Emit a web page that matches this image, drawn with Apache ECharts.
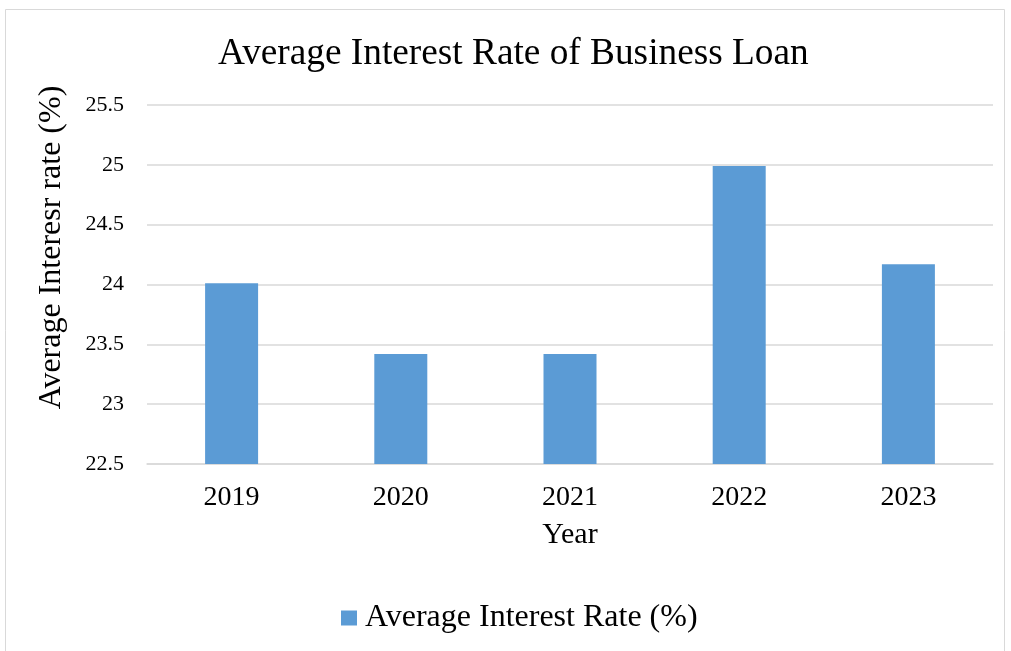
<!DOCTYPE html>
<html>
<head>
<meta charset="utf-8">
<script src="https://cdn.jsdelivr.net/npm/echarts@6/dist/echarts.min.js"></script>
<style>
  html, body { margin: 0; padding: 0; background: #ffffff; }
  #chart { width: 1011px; height: 651px; }
</style>
</head>
<body>
<div id="chart"></div>
<script>
// Average business loan interest rate by year
const years = ['2019', '2020', '2021', '2022', '2023'];
const rates = [24.01, 23.42, 23.42, 24.99, 24.17];
const seriesName = 'Average Interest Rate (%)';

const FONT = '"Liberation Serif", "Times New Roman", serif';

const chart = echarts.init(document.getElementById('chart'), null, { renderer: 'canvas' });

chart.setOption({
  backgroundColor: '#ffffff',
  animation: false,
  graphic: [{
    type: 'rect',
    shape: { x: 5.5, y: 9.5, width: 999, height: 660 },
    style: { fill: 'none', stroke: '#d9d9d9', lineWidth: 1 },
    silent: true,
    z: -1
  }],
  title: {
    text: 'Average Interest Rate of Business Loan',
    left: 213,
    top: 31,
    textStyle: { fontFamily: FONT, fontSize: 37.3, fontWeight: 'normal', color: '#000000' }
  },
  legend: {
    top: 597,
    left: 336,
    itemWidth: 16,
    itemHeight: 15,
    icon: 'rect',
    textStyle: { fontFamily: FONT, fontSize: 32, color: '#000000', padding: [0, 0, 0, 3] },
    data: [seriesName]
  },
  grid: { left: 147, right: 18, top: 105, bottom: 187, containLabel: false },
  xAxis: {
    type: 'category',
    data: years,
    name: 'Year',
    nameLocation: 'middle',
    nameGap: 56,
    nameTextStyle: { fontFamily: FONT, fontSize: 30, color: '#000000' },
    axisLine: { show: true, lineStyle: { color: '#d9d9d9', width: 1.5 } },
    axisTick: { show: false },
    axisLabel: { fontFamily: FONT, fontSize: 28, color: '#000000', margin: 20 }
  },
  yAxis: {
    type: 'value',
    min: 22.5,
    max: 25.5,
    interval: 0.5,
    name: 'Average Interesr rate (%)',
    nameLocation: 'middle',
    nameGap: 79,
    nameRotate: 90,
    nameTextStyle: { fontFamily: FONT, fontSize: 32, color: '#000000', padding: [0, 0, 0, 74] },
    axisLine: { show: false },
    axisTick: { show: false },
    axisLabel: {
      fontFamily: FONT, fontSize: 22, color: '#000000', margin: 23,
      formatter: v => String(Math.round(v * 10) / 10)
    },
    splitLine: { show: true, lineStyle: { color: '#d9d9d9', width: 1.5 } }
  },
  series: [{
    name: seriesName,
    type: 'bar',
    data: rates,
    barWidth: 53,
    itemStyle: { color: '#5b9bd5' }
  }]
});
</script>
</body>
</html>
